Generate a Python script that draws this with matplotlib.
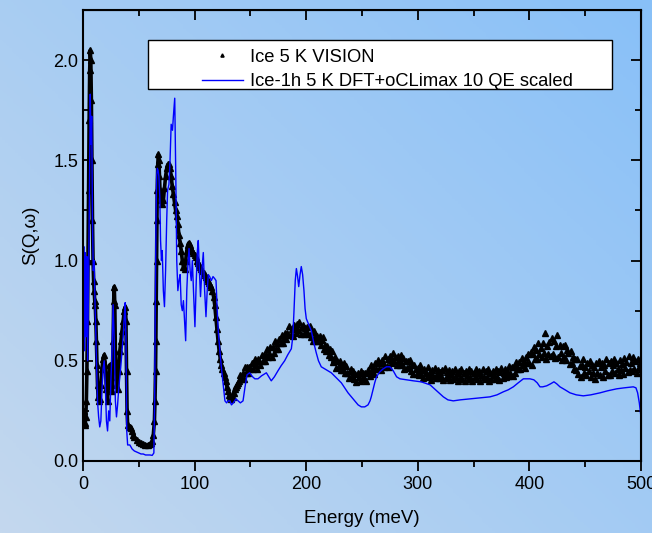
import numpy as np
import matplotlib.pyplot as plt
from matplotlib.patches import Rectangle
from matplotlib.colors import LinearSegmentedColormap

plt.rcParams['font.family'] = ['Liberation Sans', 'DejaVu Sans']

# measured spectrum, low energy part (meV, S)
e_vis_low = [0.5, 1, 1.5, 2, 2.5, 3, 3.5, 4, 4.5, 5, 5.5, 6, 6.5, 7, 7.5, 8, 8.5, 9, 9.5, 10,
             10.5, 11, 11.5, 12, 12.5, 13, 13.5, 14, 15, 16, 17, 18, 19, 20, 21, 22, 23, 24, 25, 26,
             27, 27.5, 28, 28.5, 29, 30, 31, 32, 33, 34, 35, 36, 37, 38, 38.5, 39, 39.5, 40, 41, 42,
             43, 44, 45, 46, 48, 50, 52, 54, 56, 58, 60, 61, 62, 63, 64, 64.5, 65, 65.3, 65.6, 65.9,
             66.2, 66.5, 67, 67.5, 68, 68.5, 69, 70, 71, 72, 73, 74, 75, 76, 77, 78, 79, 80, 81, 82,
             83, 84, 85, 86, 87, 88, 89, 90, 91, 92, 93, 94, 95, 96, 97, 98, 99, 100, 101, 102,
             103, 104, 105, 106, 107, 108, 109, 110, 111, 112, 113, 114, 115, 116, 117, 118, 119, 120, 121, 122,
             123, 124, 125, 126, 127, 128, 129, 130, 131, 132, 133, 134, 135, 136, 137, 138, 139, 140]
s_vis_low = [0.25, 0.19, 0.18, 0.19, 0.22, 0.3, 0.45, 0.7, 1.0, 1.35, 1.7, 1.95, 2.05, 2.0, 1.8, 1.5, 1.2, 1.0, 0.9, 0.85,
             0.8, 0.78, 0.7, 0.6, 0.48, 0.38, 0.32, 0.3, 0.31, 0.38, 0.46, 0.51, 0.53, 0.48, 0.36, 0.3, 0.4, 0.48, 0.42, 0.35,
             0.6, 0.8, 0.87, 0.78, 0.55, 0.38, 0.36, 0.45, 0.55, 0.6, 0.65, 0.7, 0.75, 0.77, 0.7, 0.45, 0.25, 0.18, 0.17, 0.17,
             0.165, 0.15, 0.13, 0.12, 0.105, 0.095, 0.09, 0.085, 0.08, 0.08, 0.085, 0.09, 0.1, 0.13, 0.2, 0.3, 0.45, 0.6, 0.8, 1.0,
             1.2, 1.35, 1.48, 1.53, 1.5, 1.42, 1.35, 1.3, 1.28, 1.3, 1.36, 1.42, 1.46, 1.48, 1.48, 1.46, 1.42, 1.37, 1.33, 1.29,
             1.25, 1.22, 1.18, 1.13, 1.09, 1.05, 1.0, 0.97, 0.96, 1.0, 1.05, 1.08, 1.09, 1.08, 1.06, 1.05, 1.04, 1.03, 1.02, 1.0,
             0.99, 0.98, 0.97, 0.96, 0.95, 0.94, 0.93, 0.92, 0.91, 0.9, 0.89, 0.88, 0.87, 0.85, 0.82, 0.78, 0.72, 0.66, 0.6, 0.55,
             0.51, 0.48, 0.46, 0.44, 0.42, 0.4, 0.37, 0.35, 0.33, 0.32, 0.31, 0.32, 0.34, 0.36, 0.37, 0.38, 0.39, 0.40]

# measured spectrum, 141..500 meV in 1 meV bins
e_vis_high = list(range(141, 501))
s_vis_high = [0.43, 0.41, 0.44, 0.41, 0.47, 0.44, 0.47, 0.44, 0.47, 0.46,
              0.49, 0.46, 0.49, 0.51, 0.48, 0.46, 0.51, 0.50, 0.48, 0.53,
              0.50, 0.53, 0.50, 0.53, 0.56, 0.52, 0.54, 0.57, 0.52, 0.57,
              0.54, 0.60, 0.56, 0.59, 0.56, 0.61, 0.59, 0.63, 0.59, 0.62,
              0.64, 0.61, 0.64, 0.63, 0.675, 0.63, 0.66, 0.625, 0.68, 0.66,
              0.64, 0.685, 0.655, 0.695, 0.635, 0.67, 0.68, 0.635, 0.665, 0.64,
              0.67, 0.635, 0.675, 0.62, 0.645, 0.60, 0.65, 0.625, 0.60, 0.625,
              0.60, 0.625, 0.58, 0.605, 0.62, 0.56, 0.58, 0.55, 0.575, 0.53,
              0.56, 0.52, 0.55, 0.495, 0.51, 0.52, 0.465, 0.50, 0.475, 0.50,
              0.455, 0.48, 0.455, 0.49, 0.44, 0.475, 0.44, 0.415, 0.45, 0.46,
              0.425, 0.45, 0.41, 0.435, 0.395, 0.44, 0.42, 0.40, 0.45, 0.41,
              0.44, 0.415, 0.44, 0.40, 0.455, 0.44, 0.425, 0.48, 0.445, 0.47,
              0.435, 0.49, 0.46, 0.505, 0.46, 0.49, 0.455, 0.505, 0.49, 0.47,
              0.525, 0.475, 0.51, 0.47, 0.525, 0.505, 0.49, 0.54, 0.50, 0.52,
              0.48, 0.525, 0.505, 0.48, 0.53, 0.485, 0.515, 0.46, 0.50, 0.465,
              0.50, 0.47, 0.505, 0.45, 0.48, 0.435, 0.48, 0.46, 0.435, 0.465,
              0.43, 0.48, 0.435, 0.455, 0.415, 0.46, 0.44, 0.42, 0.47, 0.43,
              0.445, 0.405, 0.455, 0.425, 0.465, 0.415, 0.435, 0.455, 0.415, 0.445,
              0.425, 0.455, 0.405, 0.465, 0.415, 0.445, 0.425, 0.455, 0.405, 0.435,
              0.45, 0.41, 0.46, 0.42, 0.44, 0.40, 0.45, 0.42, 0.46, 0.41,
              0.44, 0.40, 0.45, 0.43, 0.41, 0.46, 0.42, 0.45, 0.40, 0.44,
              0.42, 0.46, 0.41, 0.44, 0.45, 0.40, 0.43, 0.46, 0.42, 0.41,
              0.45, 0.42, 0.46, 0.40, 0.44, 0.41, 0.45, 0.43, 0.41, 0.46,
              0.42, 0.45, 0.405, 0.445, 0.465, 0.415, 0.44, 0.46, 0.42, 0.45,
              0.425, 0.475, 0.44, 0.47, 0.425, 0.47, 0.44, 0.495, 0.47, 0.46,
              0.495, 0.46, 0.515, 0.48, 0.50, 0.465, 0.52, 0.49, 0.535, 0.49,
              0.545, 0.48, 0.535, 0.57, 0.51, 0.555, 0.51, 0.59, 0.535, 0.565,
              0.52, 0.59, 0.54, 0.64, 0.51, 0.575, 0.535, 0.595, 0.525, 0.615,
              0.535, 0.60, 0.515, 0.575, 0.63, 0.52, 0.58, 0.54, 0.505, 0.575,
              0.52, 0.58, 0.505, 0.555, 0.54, 0.485, 0.55, 0.49, 0.52, 0.46,
              0.51, 0.455, 0.51, 0.435, 0.475, 0.42, 0.48, 0.51, 0.44, 0.47,
              0.43, 0.49, 0.45, 0.50, 0.42, 0.48, 0.44, 0.47, 0.41, 0.49,
              0.44, 0.50, 0.43, 0.47, 0.49, 0.42, 0.48, 0.45, 0.51, 0.43,
              0.49, 0.43, 0.50, 0.45, 0.48, 0.51, 0.44, 0.49, 0.46, 0.43,
              0.505, 0.455, 0.485, 0.435, 0.515, 0.465, 0.495, 0.445, 0.525, 0.455,
              0.49, 0.45, 0.52, 0.46, 0.50, 0.44, 0.51, 0.47, 0.49, 0.46]

# DFT + oCLimax model
e_dft = [0, 0.7, 1.4, 2.1, 2.8, 3.5, 4.2, 5.0, 5.8, 6.5, 7.1, 7.8, 8.5, 9.2, 10, 10.8, 11.5, 12.3, 13, 14,
         15, 16, 17, 18, 19, 20, 21, 22, 23, 24, 25, 26, 27, 28, 29, 30, 31, 32, 33, 34,
         35, 36, 37, 37.8, 38.5, 39.2, 40, 42, 44, 46, 48, 50, 52, 54, 56, 58, 60, 62, 63.5, 64.2,
         64.8, 65.4, 66, 66.6, 67.3, 68, 68.8, 69.5, 70.3, 71, 72, 73, 74, 75, 75.8, 77, 78, 79, 80.2, 81,
         82.2, 83.2, 84, 85, 86, 87, 88, 89, 90, 91, 92, 93, 94, 95, 96, 97, 98, 99, 100.3, 101.5,
         102.5, 103.3, 104.3, 105.3, 106.5, 107.8, 109, 110.2, 111.3, 112.3, 113.5, 115, 116.5, 118, 119.2, 120.3, 121.3, 122.8, 124.3, 125.8,
         127.2, 128.7, 130, 131.7, 133, 134.7, 137, 139, 141, 143.4, 145.2, 147, 149.3, 152, 154, 156.8, 160, 164.3, 166.5, 168.7,
         171.5, 174.7, 177.5, 180.7, 183.5, 186.7, 188, 189, 190.2, 191.2, 192.3, 193.3, 194.5, 195.6, 196.8, 198, 199, 200.1, 202.3, 204.6,
         206.8, 209, 211, 213.5, 218, 222.5, 227, 231.5, 234.5, 237.5, 240.5, 243.5, 246.5, 249.4, 252.5, 255.4, 257.2, 258.3, 261.4, 263,
         266, 269, 272, 275, 278, 281, 284, 290, 296, 303, 311, 317, 322.9, 327, 331.8, 338, 346.8, 355, 364.7, 371,
         376.6, 381, 385.6, 390, 394.6, 400.5, 404, 407, 409.5, 412, 415.5, 419, 422, 424.5, 427.4, 432, 436.4, 442, 448.3, 455,
         463.3, 470, 478.2, 485, 493.1, 495.5, 497, 498.5, 500]
s_dft = [0.95, 1.07, 0.55, 1.04, 0.62, 1.02, 0.5, 0.9, 1.35, 1.83, 1.58, 1.72, 1.2, 0.95, 1.0, 0.78, 0.62, 0.45, 0.3, 0.22,
         0.17, 0.2, 0.35, 0.46, 0.5, 0.38, 0.2, 0.15, 0.25, 0.2, 0.4, 0.55, 0.78, 0.6, 0.3, 0.22, 0.28, 0.36, 0.42, 0.48,
         0.55, 0.62, 0.72, 0.79, 0.6, 0.15, 0.08, 0.08, 0.06, 0.05, 0.045, 0.04, 0.035, 0.035, 0.03, 0.03, 0.03, 0.028, 0.04, 0.3,
         0.8, 1.2, 1.42, 1.46, 1.45, 1.42, 1.32, 1.1, 1.0, 1.05, 0.85, 0.77, 0.95, 1.2, 1.35, 1.38, 1.5, 1.68, 1.65, 1.72,
         1.81, 1.4, 1.0, 0.85, 0.9, 0.93, 0.78, 0.75, 0.8, 0.7, 0.6, 0.85, 0.98, 1.06, 0.95, 0.9, 1.0, 0.85, 0.67, 0.9,
         1.05, 1.1, 0.95, 0.82, 0.95, 1.04, 0.85, 0.72, 0.85, 0.93, 0.92, 0.9, 0.92, 0.91, 0.9, 0.75, 0.64, 0.54, 0.45, 0.37,
         0.30, 0.29, 0.30, 0.30, 0.28, 0.29, 0.31, 0.30, 0.29, 0.30, 0.37, 0.43, 0.44, 0.42, 0.41, 0.41, 0.425, 0.44, 0.42, 0.40,
         0.42, 0.45, 0.475, 0.50, 0.53, 0.56, 0.62, 0.74, 0.90, 0.96, 0.92, 0.87, 0.93, 0.97, 0.93, 0.85, 0.76, 0.71, 0.68, 0.65,
         0.59, 0.54, 0.50, 0.47, 0.455, 0.44, 0.415, 0.39, 0.365, 0.34, 0.32, 0.30, 0.28, 0.27, 0.27, 0.28, 0.30, 0.32, 0.39, 0.42,
         0.445, 0.46, 0.47, 0.47, 0.45, 0.42, 0.41, 0.405, 0.40, 0.395, 0.38, 0.35, 0.32, 0.305, 0.30, 0.305, 0.31, 0.315, 0.32, 0.33,
         0.345, 0.355, 0.37, 0.39, 0.41, 0.41, 0.405, 0.39, 0.37, 0.37, 0.375, 0.385, 0.395, 0.385, 0.37, 0.355, 0.34, 0.33, 0.325, 0.33,
         0.34, 0.35, 0.36, 0.365, 0.37, 0.365, 0.34, 0.29, 0.22]

fig = plt.figure(figsize=(6.52, 5.33), dpi=100)

# gradient background
bg = fig.add_axes([0, 0, 1, 1], zorder=-10)
cmap = LinearSegmentedColormap.from_list('bg', ['#c4d8ee', '#88c0f8'])
gx, gy = np.meshgrid(np.linspace(0, 1, 200), np.linspace(0, 1, 200))
bg.imshow(0.55 * gx + 0.45 * gy, cmap=cmap, origin='lower', aspect='auto', extent=[0, 1, 0, 1])
bg.axis('off')

ax = fig.add_axes([0.1273, 0.1351, 0.8558, 0.8461])
ax.set_facecolor('none')

e_vis = e_vis_low + e_vis_high
s_vis = s_vis_low + s_vis_high
ax.plot(e_vis_low, s_vis_low, '-', color='black', lw=2.6)
vis, = ax.plot(e_vis, s_vis, '^', color='black', ms=4.2, ls='none', label='Ice 5 K VISION')
dft, = ax.plot(e_dft, s_dft, '-', color='#0000ff', lw=1.0, label='Ice-1h 5 K DFT+oCLimax 10 QE scaled')

ax.set_xlim(0, 500)
ax.set_ylim(0, 2.25)
ax.set_xticks([0, 100, 200, 300, 400, 500])
ax.set_xticks([50, 150, 250, 350, 450], minor=True)
ax.set_yticks([0.0, 0.5, 1.0, 1.5, 2.0])
ax.set_yticks([0.25, 0.75, 1.25, 1.75], minor=True)
ax.set_yticklabels(['0.0', '0.5', '1.0', '1.5', '2.0'])

ax.tick_params(axis='x', which='both', direction='out', top=False, labelsize=13, width=1.3)
ax.tick_params(axis='y', which='both', direction='in', right=False, labelsize=13, width=1.3)
ax.tick_params(which='major', length=7)
ax.tick_params(which='minor', length=4.5)
for s in ax.spines.values():
    s.set_linewidth(1.5)

# inward ticks on top and right
top = ax.secondary_xaxis('top')
top.set_xticks([0, 100, 200, 300, 400, 500])
top.set_xticks([50, 150, 250, 350, 450], minor=True)
top.tick_params(which='both', direction='in', labeltop=False, width=1.3)
top.tick_params(which='major', length=7)
top.tick_params(which='minor', length=4.5)
right = ax.secondary_yaxis('right')
right.set_yticks([0.0, 0.5, 1.0, 1.5, 2.0])
right.set_yticks([0.25, 0.75, 1.25, 1.75], minor=True)
right.tick_params(which='both', direction='in', labelright=False, width=1.3)
right.tick_params(which='major', length=7)
right.tick_params(which='minor', length=4.5)

ax.set_xlabel('Energy (meV)', fontsize=13.5, labelpad=12.5)
ax.set_ylabel('S(Q,ω)', fontsize=13.5, labelpad=10)

ax.add_patch(Rectangle((0.1165, 0.825), 0.8315, 0.108, transform=ax.transAxes,
                       facecolor='white', edgecolor='black', lw=1.0, zorder=5))
leg = ax.legend(handles=[vis, dft], loc='upper left', bbox_to_anchor=(0.213, 0.914),
                frameon=False, fontsize=13.2, handlelength=2.25, handletextpad=0.4,
                borderpad=0, borderaxespad=0, labelspacing=0.4, markerscale=0.55)
leg.set_zorder(6)

plt.savefig('out.png', dpi=100)
